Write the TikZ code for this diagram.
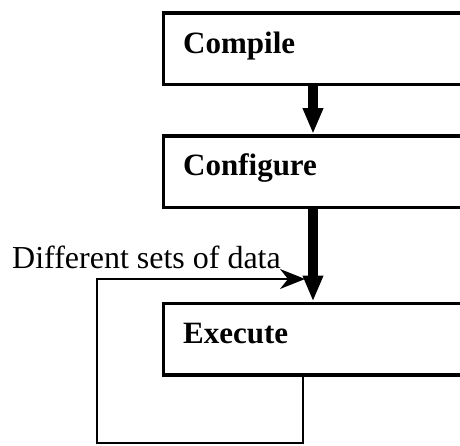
\documentclass[tikz,border=0pt]{standalone}
\usepackage{fontspec}
\setmainfont{Liberation Serif}
\usetikzlibrary{arrows.meta}
\begin{document}
\begin{tikzpicture}[x=1pt,y=-1pt,
  stagebox/.style={draw, line width=3.5pt, rectangle, anchor=north west,
    minimum width=340pt, minimum height=71.5pt, inner sep=0pt},
  stagelabel/.style={anchor=base west, inner sep=0pt, font=\bfseries\fontsize{31pt}{37pt}\selectfont},
  flow/.style={line width=10pt, -{Triangle[width=19pt,length=26pt]}},
  loop/.style={line width=2pt, -{Stealth[width=20pt,length=25pt,inset=8pt]}}]
  \useasboundingbox (0,0) rectangle (460,445);
  \clip (0,0) rectangle (460,445);

  % processing stages
  \node[stagebox] (compile) at (161.5,11) {};
  \node[stagebox] (configure) at (161.5,134) {};
  \node[stagebox] (execute) at (161.5,301.5) {};

  \node[stagelabel] (tcompile) at (183,53) {Compile};
  \node[stagelabel] (tconfigure) at (183,175) {Configure};
  \node[stagelabel] (texecute) at (183,343) {Execute};

  % main flow
  \draw[flow] (compile.south -| 313,0) -- (configure.north -| 313,0);
  \draw[flow] (configure.south -| 313,0) -- (execute.north -| 313,0);

  % repeat loop over data sets
  \coordinate (loopend) at (305,279);
  \draw[loop] (execute.south -| 303,0) -- (303,443) -- (97,443) -- (97,279) -- (loopend);

  \node[anchor=base west, inner sep=0pt, font=\fontsize{32pt}{38pt}\selectfont] (ldata) at (12,268) {Different sets of data};
\end{tikzpicture}
\end{document}
